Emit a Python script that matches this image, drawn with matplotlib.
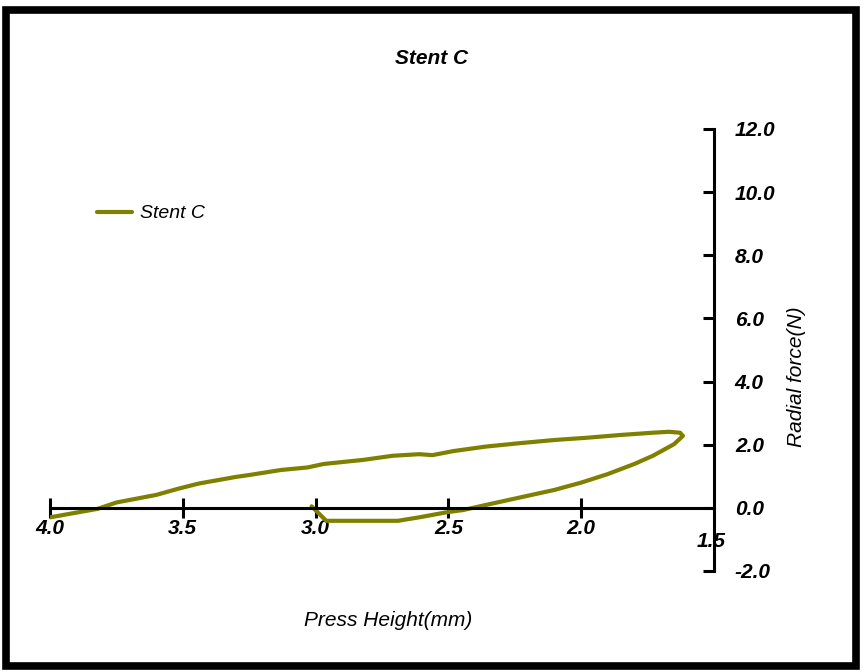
import matplotlib.pyplot as plt
from matplotlib.patches import Rectangle

# press height (mm) and radial force (N), loading then unloading
height = [3.015, 2.96, 2.69, 2.61, 2.50, 2.445, 2.36, 2.23, 2.10, 2.00, 1.90,
          1.80, 1.73, 1.65, 1.617, 1.628, 1.67, 1.73, 1.85, 1.98, 2.10, 2.23,
          2.36, 2.48, 2.56, 2.61, 2.71, 2.82, 2.97, 3.03, 3.13, 3.25, 3.30,
          3.44, 3.52, 3.60, 3.75, 3.82, 4.00]
force = [0.05, -0.41, -0.41, -0.30, -0.13, -0.07, 0.09, 0.33, 0.57, 0.80, 1.07,
         1.39, 1.65, 2.02, 2.28, 2.38, 2.41, 2.38, 2.31, 2.22, 2.15, 2.05,
         1.94, 1.80, 1.67, 1.70, 1.65, 1.52, 1.39, 1.28, 1.20, 1.04, 0.98,
         0.77, 0.60, 0.41, 0.17, -0.03, -0.30]

x_ticks = [4.0, 3.5, 3.0, 2.5, 2.0]
y_ticks = [-2.0, 0.0, 2.0, 4.0, 6.0, 8.0, 10.0, 12.0]

OLIVE = "#808000"
plt.rcParams["font.family"] = ["Liberation Sans", "DejaVu Sans"]

fig = plt.figure(figsize=(8.64, 6.72), dpi=100)
ax = fig.add_axes([50 / 864, 101 / 672, 664 / 864, 442 / 672])

ax.plot(height, force, color=OLIVE, lw=3, label="Stent C", solid_capstyle="round")
ax.set_xlim(4.0, 1.5)
ax.set_ylim(-2.0, 12.0)

ax.spines["left"].set_visible(False)
ax.spines["top"].set_visible(False)
ax.spines["bottom"].set_position(("data", 0))
for s in ("bottom", "right"):
    ax.spines[s].set_linewidth(2.2)

ax.set_xticks(x_ticks)
ax.set_xticklabels([f"{v:.1f}" for v in x_ticks])
ax.tick_params(axis="x", direction="inout", length=14, width=2.2, pad=1,
               labelsize=15)
ax.yaxis.tick_right()
ax.set_yticks(y_ticks)
ax.set_yticklabels([f"{v:.1f}" for v in y_ticks])
ax.tick_params(axis="y", direction="in", length=8, width=2.2, pad=15,
               labelsize=15)
for lab in ax.get_xticklabels() + ax.get_yticklabels():
    lab.set_fontstyle("italic")
    lab.set_fontweight("bold")

ax.text(1.511, -1.05, "1.5", ha="center", va="center", fontsize=15,
        fontstyle="italic", fontweight="bold")

fig.text(432 / 864, 1 - 58 / 672, "Stent C", ha="center", va="center",
         fontsize=15, fontstyle="italic", fontweight="bold")
fig.text(388 / 864, 1 - 620 / 672, "Press Height(mm)", ha="center",
         va="center", fontsize=15, fontstyle="italic")
fig.text(797 / 864, 1 - 377 / 672, "Radial force(N)", ha="center",
         va="center", fontsize=15, fontstyle="italic", rotation=90)

ax.legend(loc="upper left", bbox_to_anchor=(0.045, 0.868), frameon=False,
          handlelength=1.8, handletextpad=0.4,
          prop={"style": "italic", "size": 14})

fig.patches.append(Rectangle((6 / 864, 1 - 666 / 672), 850 / 864, 656 / 672,
                             transform=fig.transFigure, fill=False,
                             edgecolor="black", lw=5.5))

fig.savefig("out.png", dpi=100)
